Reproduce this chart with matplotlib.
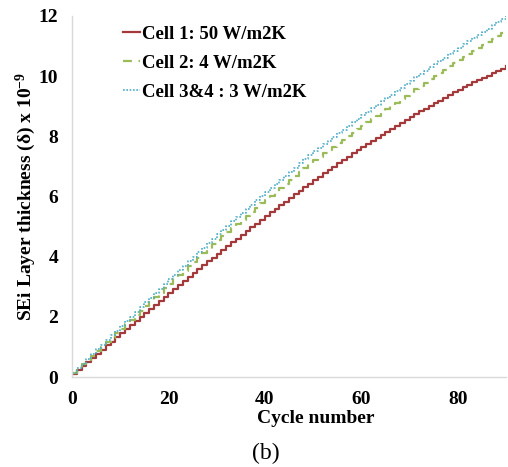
import matplotlib
matplotlib.use("Agg")
import matplotlib.pyplot as plt
import numpy as np

cycles = list(range(0, 91))

cell1 = [0.10, 0.24, 0.37, 0.51, 0.64, 0.78, 0.91, 1.05, 1.18, 1.32,
         1.45, 1.59, 1.72, 1.86, 1.99, 2.13, 2.26, 2.40, 2.53, 2.67,
         2.80, 2.93, 3.06, 3.19, 3.32, 3.45, 3.58, 3.71, 3.84, 3.97,
         4.10, 4.23, 4.35, 4.48, 4.60, 4.73, 4.85, 4.98, 5.10, 5.23,
         5.35, 5.47, 5.59, 5.71, 5.83, 5.95, 6.07, 6.19, 6.31, 6.43,
         6.55, 6.66, 6.77, 6.88, 6.99, 7.10, 7.21, 7.32, 7.43, 7.54,
         7.65, 7.75, 7.85, 7.95, 8.05, 8.15, 8.25, 8.35, 8.45, 8.55,
         8.65, 8.74, 8.83, 8.92, 9.01, 9.10, 9.19, 9.28, 9.37, 9.46,
         9.55, 9.63, 9.71, 9.79, 9.86, 9.94, 10.02, 10.10, 10.17, 10.25,
         10.33]

cell2 = [0.12, 0.27, 0.42, 0.56, 0.71, 0.86, 1.01, 1.16, 1.30, 1.45,
         1.60, 1.75, 1.90, 2.05, 2.20, 2.35, 2.50, 2.65, 2.80, 2.95,
         3.10, 3.25, 3.39, 3.54, 3.68, 3.83, 3.97, 4.12, 4.26, 4.41,
         4.55, 4.69, 4.82, 4.96, 5.09, 5.23, 5.36, 5.50, 5.63, 5.77,
         5.90, 6.03, 6.16, 6.29, 6.42, 6.55, 6.68, 6.81, 6.94, 7.07,
         7.20, 7.32, 7.43, 7.55, 7.66, 7.78, 7.89, 8.01, 8.12, 8.24,
         8.35, 8.46, 8.57, 8.68, 8.79, 8.90, 9.01, 9.12, 9.23, 9.34,
         9.45, 9.56, 9.67, 9.78, 9.89, 10.00, 10.11, 10.22, 10.33, 10.44,
         10.55, 10.65, 10.75, 10.85, 10.95, 11.05, 11.15, 11.25, 11.35, 11.45,
         11.55]

cell34 = [0.13, 0.29, 0.44, 0.60, 0.76, 0.92, 1.07, 1.23, 1.39, 1.54,
          1.70, 1.86, 2.01, 2.17, 2.32, 2.48, 2.63, 2.79, 2.94, 3.10,
          3.25, 3.40, 3.55, 3.70, 3.85, 4.00, 4.15, 4.30, 4.45, 4.60,
          4.75, 4.89, 5.03, 5.17, 5.31, 5.45, 5.59, 5.73, 5.87, 6.01,
          6.15, 6.29, 6.42, 6.56, 6.69, 6.83, 6.96, 7.10, 7.23, 7.37,
          7.50, 7.62, 7.74, 7.86, 7.98, 8.10, 8.22, 8.34, 8.46, 8.58,
          8.70, 8.82, 8.93, 9.05, 9.16, 9.28, 9.39, 9.51, 9.62, 9.74,
          9.85, 9.96, 10.07, 10.18, 10.29, 10.40, 10.51, 10.62, 10.73, 10.84,
          10.95, 11.06, 11.16, 11.27, 11.37, 11.48, 11.58, 11.69, 11.79, 11.90,
          12.00]

labels = ["Cell 1: 50 W/m2K", "Cell 2: 4 W/m2K", "Cell 3&4 : 3 W/m2K"]
colors = ["#A3393A", "#9BBB59", "#4BACC6"]

xticks = [0, 20, 40, 60, 80]
yticks = [0, 2, 4, 6, 8, 10, 12]

serif = ["Liberation Serif", "DejaVu Serif"]
plt.rcParams["mathtext.fontset"] = "custom"
plt.rcParams["mathtext.rm"] = "Liberation Serif:bold"
plt.rcParams["mathtext.it"] = "Liberation Serif:bold"
plt.rcParams["mathtext.bf"] = "Liberation Serif:bold"
plt.rcParams["mathtext.default"] = "rm"

fig = plt.figure(figsize=(5.08, 4.67), dpi=100)
ax = fig.add_axes([72/508, 1-377/467, 434/508, 361/467])

ax.plot(cycles, cell1, drawstyle="steps-post", color=colors[0], lw=1.6, label=labels[0])
ax.plot(cycles, cell2, drawstyle="steps-post", color=colors[1], lw=1.6,
        linestyle=(0, (4, 3)), label=labels[1])
ax.plot(cycles, cell34, drawstyle="steps-post", color=colors[2], lw=1.2,
        linestyle=(0, (1, 1)), label=labels[2])

ax.set_xlim(0, 90)
ax.set_ylim(0, 12)
ax.set_xticks(xticks)
ax.set_yticks(yticks)
ax.tick_params(length=0, pad=10)
for lab in ax.get_xticklabels() + ax.get_yticklabels():
    lab.set_fontfamily(serif)
    lab.set_fontweight("bold")
    lab.set_fontsize(14)

for s in ["top", "right"]:
    ax.spines[s].set_visible(False)
for s in ["left", "bottom"]:
    ax.spines[s].set_color("#D9D9D9")
    ax.spines[s].set_linewidth(1.0)

ax.set_xlabel("Cycle number", fontfamily=serif, fontweight="bold", fontsize=14)
ax.xaxis.set_label_coords((316-72)/434, -0.092)
ax.set_ylabel("SEi Layer thickness (δ) x 10$^{-9}$", fontfamily=serif,
              fontweight="bold", fontsize=14)
ax.yaxis.set_label_coords(-(72-38)/434, 0.5)

leg = ax.legend(loc="upper left", bbox_to_anchor=(0.088, 1.01), frameon=False,
                prop={"family": serif, "weight": "bold", "size": 13.5},
                handlelength=0.9, handletextpad=0.1, labelspacing=0.64,
                borderaxespad=0.3)

fig.text(266/508, 1-453/467, "(b)", ha="center", va="center",
         fontfamily=serif, fontsize=17)

fig.savefig("out.png", dpi=100)
